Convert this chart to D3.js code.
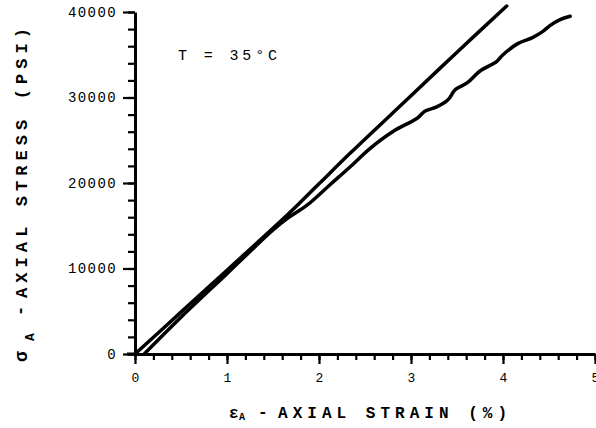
<!DOCTYPE html>
<html>
<head>
<meta charset="utf-8">
<script src="https://cdn.jsdelivr.net/npm/d3@7"></script>
<style>
  body { margin: 0; background: #fff; }
  svg { display: block; }
  .tick text { font-family: "Liberation Mono", "DejaVu Sans Mono", monospace; }
</style>
</head>
<body>
<svg id="chart" width="596" height="428"></svg>
<script>
// strain (%) / stress (psi)
const upperStrain = [0, 0.5, 1.0, 1.66, 2.0, 2.34, 3.0, 3.5, 4.04]
const upperStress = [0, 4900, 9800, 16300, 19900, 23500, 30200, 35300, 40700]

const lowerStrain = [0.1, 0.5, 1.0, 1.5, 1.66, 1.87, 2.12, 2.34, 2.55, 2.8, 3.07, 3.15, 3.28, 3.4, 3.48, 3.61, 3.75, 3.93, 4.0, 4.16, 4.32, 4.43, 4.51, 4.62, 4.73]
const lowerStress = [0, 4300, 9400, 14500, 15900, 17400, 19800, 21900, 24000, 26000, 27600, 28400, 28900, 29700, 30900, 31700, 33100, 34200, 35000, 36300, 37000, 37700, 38400, 39100, 39500]

const xTicks = [0, 1, 2, 3, 4, 5]
const yTicks = [0, 10000, 20000, 30000, 40000]

const svg = d3.select('#chart')

const x = d3.scaleLinear().domain([0, 5]).range([135, 595])
const y = d3.scaleLinear().domain([0, 40000]).range([354, 12])

//* * minor ticks first
svg.append('g')
  .attr('transform', 'translate(0,354)')
  .call(d3.axisBottom(x).tickValues(d3.range(0, 5.01, 0.2)).tickFormat('').tickSize(6).tickSizeOuter(0))
  .call(g => g.select('.domain').remove())
svg.append('g')
  .attr('transform', 'translate(135,0)')
  .call(d3.axisLeft(y).tickValues(d3.range(0, 40001, 2000)).tickFormat('').tickSize(7).tickSizeOuter(0))
  .call(g => g.select('.domain').remove())

//* * major axes
const xAxis = svg.append('g')
  .attr('transform', 'translate(0,354)')
  .call(d3.axisBottom(x).tickValues(xTicks).tickFormat(d3.format('d')).tickSize(10).tickSizeOuter(0).tickPadding(14))
xAxis.selectAll('text').attr('font-size', 13)
  .attr('dy', '0.3em')

const yAxis = svg.append('g')
  .attr('transform', 'translate(135,0)')
  .call(d3.axisLeft(y).tickValues(yTicks).tickFormat(d3.format('d')).tickSize(12).tickSizeOuter(0).tickPadding(6))
yAxis.selectAll('text').attr('font-size', 14).attr('letter-spacing', 1.4)

svg.selectAll('.domain').attr('stroke-width', 3)
svg.selectAll('.tick line').attr('stroke-width', 2.2)

// little stub left of origin
svg.append('line')
  .attr('x1', x(0) - 8).attr('x2', x(0))
  .attr('y1', y(0)).attr('y2', y(0))
  .attr('stroke', '#000').attr('stroke-width', 3)

//* * curves
const line = d3.line()
  .x(d => x(d[0]))
  .y(d => y(d[1]))
  .curve(d3.curveCatmullRom)

const series = [
  d3.zip(upperStrain, upperStress),
  d3.zip(lowerStrain, lowerStress)
]

svg.selectAll('.curve')
  .data(series)
  .enter().append('path')
  .attr('class', 'curve')
  .attr('d', line)
  .attr('fill', 'none')
  .attr('stroke', '#000')
  .attr('stroke-width', 3.5)
  .attr('stroke-linejoin', 'round')
  .attr('stroke-linecap', 'round')

//* * titles
const mono = '"Liberation Mono", "DejaVu Sans Mono", monospace'

svg.append('text')
  .attr('x', 178).attr('y', 60)
  .attr('font-family', mono)
  .attr('font-size', 15)
  .attr('textLength', 99)
  .attr('lengthAdjust', 'spacing')
  .text('T = 35°C')

// x title, in pieces
const xTitle = svg.append('g')
  .attr('font-family', mono)
  .attr('font-weight', 'bold')
xTitle.append('text').attr('x', 229).attr('y', 418).attr('font-size', 16).text('ε')
xTitle.append('text').attr('x', 239).attr('y', 420).attr('font-size', 10).text('A')
xTitle.append('text').attr('x', 258).attr('y', 417).attr('font-size', 16).text('-')
xTitle.append('text').attr('x', 278).attr('y', 418).attr('font-size', 16)
  .attr('textLength', 229).attr('lengthAdjust', 'spacing')
  .text('AXIAL STRAIN (%)')

// y title, rotated, in pieces
const yTitle = svg.append('g')
  .attr('transform', 'rotate(-90)')
  .attr('font-family', mono)
  .attr('font-weight', 'bold')
yTitle.append('text').attr('x', -362).attr('y', 27).attr('font-size', 18).text('σ')
yTitle.append('text').attr('x', -341).attr('y', 34).attr('font-size', 13).text('A')
yTitle.append('text').attr('x', -316).attr('y', 25).attr('font-size', 17).text('-')
yTitle.append('text').attr('x', -298).attr('y', 27).attr('font-size', 17)
  .attr('textLength', 270).attr('lengthAdjust', 'spacing')
  .text('AXIAL STRESS (PSI)')
</script>
</body>
</html>
